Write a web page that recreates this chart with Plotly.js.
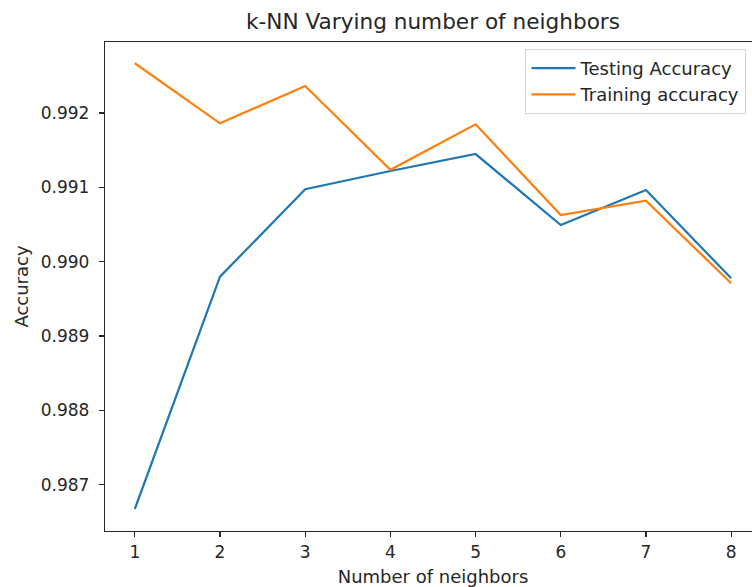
<!DOCTYPE html>
<html>
<head>
<meta charset="utf-8">
<script src="https://cdn.plot.ly/plotly-3.0.1.min.js"></script>
<style>
  html, body { margin: 0; padding: 0; overflow: hidden; background: #fff; }
  #chart { width: 800px; height: 587px; }
</style>
</head>
<body>
<div id="chart"></div>
<script>
const neighbors = [1, 2, 3, 4, 5, 6, 7, 8];
const testingAccuracy = [0.986673, 0.989798, 0.990974, 0.991220, 0.991448, 0.990493, 0.990964, 0.989776];
const trainingAccuracy = [0.992669, 0.991861, 0.992363, 0.991236, 0.991848, 0.990628, 0.990820, 0.989709];
const yTicks = [0.987, 0.988, 0.989, 0.990, 0.991, 0.992];
const xTicks = [1, 2, 3, 4, 5, 6, 7, 8];

const font = "DejaVu Sans, sans-serif";
const ink = "#262626";

const traces = [
  { x: neighbors, y: testingAccuracy, type: "scatter", mode: "lines",
    name: "Testing Accuracy", line: { color: "#1f77b4", width: 2.2 } },
  { x: neighbors, y: trainingAccuracy, type: "scatter", mode: "lines",
    name: "Training accuracy", line: { color: "#ff7f0e", width: 2.2 } }
];

const layout = {
  width: 800, height: 587,
  margin: { l: 105, r: 39, t: 42, b: 56 },
  paper_bgcolor: "#fff", plot_bgcolor: "#fff",
  font: { family: font, size: 18, color: ink },
  title: { text: "k-NN Varying number of neighbors", font: { family: font, size: 21.6, color: ink },
           x: 0.5, xref: "paper", y: 1 - 21 / 587, yref: "container", yanchor: "middle" },
  xaxis: {
    range: [0.65, 8.35], tickvals: xTicks, ticktext: xTicks.map(String),
    showgrid: false, zeroline: false, showline: true, mirror: true,
    linecolor: ink, linewidth: 1.2, ticks: "outside", ticklen: 5, tickcolor: ink, tickwidth: 1.2,
    tickfont: { family: font, size: 17, color: ink },
    title: { text: "Number of neighbors", font: { family: font, size: 18, color: ink }, standoff: 9 }
  },
  yaxis: {
    range: [0.986377, 0.992955], tickvals: yTicks, ticktext: yTicks.map(v => v.toFixed(3)),
    showgrid: false, zeroline: false, showline: true, mirror: true,
    linecolor: ink, linewidth: 1.2, ticks: "outside", ticklen: 5, tickcolor: ink, tickwidth: 1.2,
    ticklabelstandoff: 6,
    tickfont: { family: font, size: 17, color: ink },
    title: { text: "Accuracy", font: { family: font, size: 18, color: ink }, standoff: 7 }
  },
  showlegend: true,
  legend: {
    x: 0.641, y: 0.986, xanchor: "left", yanchor: "top",
    bgcolor: "rgba(255,255,255,0.8)", bordercolor: "#d5d5d5", borderwidth: 1,
    itemwidth: 44,
    font: { family: font, size: 18, color: ink }, tracegroupgap: 0
  }
};

Plotly.newPlot("chart", traces, layout, { displayModeBar: false, staticPlot: true });
</script>
</body>
</html>
